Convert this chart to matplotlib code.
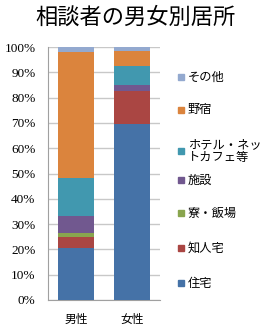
import matplotlib
matplotlib.use("Agg")
import matplotlib.pyplot as plt
from matplotlib.patches import Rectangle
import numpy as np

categories = ["男性", "女性"]
series_names = ["住宅", "知人宅", "寮・飯場", "施設", "ホテル・ネッ\nトカフェ等", "野宿", "その他"]
male = [20.4, 4.4, 1.5, 7.0, 15.1, 49.8, 1.8]
female = [69.4, 13.3, 0.0, 2.4, 7.5, 5.9, 1.5]
colors = ["#4572A7", "#AA4643", "#89A54E", "#71588F", "#4198AF", "#DB843D", "#93A9CF"]
yticks = [0, 10, 20, 30, 40, 50, 60, 70, 80, 90, 100]
ytick_labels = [f"{v}%" for v in yticks]

cjk = ["Noto Sans CJK JP", "DejaVu Sans"]

fig = plt.figure(figsize=(2.69, 3.32), dpi=100)
ax = fig.add_axes([48/269, 32/332, 112/269, 253/332])

x = np.arange(len(categories))
bottom = np.zeros(len(categories))
for i, name in enumerate(series_names):
    vals = np.array([male[i], female[i]])
    ax.bar(x, vals, bottom=bottom, width=0.63, color=colors[i], zorder=3)
    bottom += vals

ax.set_xlim(-0.5, 1.5)
ax.set_ylim(0, 100)
ax.set_yticks(yticks)
ax.set_yticklabels(ytick_labels, family="Liberation Serif", fontsize=9.5)
ax.set_xticks(x)
ax.set_xticklabels(categories, family=cjk, fontsize=8.5)
ax.yaxis.grid(True, color="#C8C8C8", linewidth=1, zorder=0)
for s in ["top", "right"]:
    ax.spines[s].set_visible(False)
ax.spines["left"].set_color("#A0A0A0")
ax.spines["bottom"].set_color("#A0A0A0")
ax.tick_params(axis="y", length=0, pad=9)
ax.tick_params(axis="x", length=0, pad=9)

fig.text(136/269, 1 - 17/332, "相談者の男女別居所", family=cjk, fontsize=16,
         ha="center", va="center")

# legend (top to bottom: reversed series order)
legend_y = [77, 110, 151, 180, 213, 248, 283]
order = list(range(len(series_names)))[::-1]
for yy, idx in zip(legend_y, order):
    fig.patches.append(Rectangle((178/269, 1 - (yy + 3)/332), 6/269, 6/332,
                                 transform=fig.transFigure, color=colors[idx]))
    fig.text(188/269, 1 - yy/332, series_names[idx], family=cjk, fontsize=8.8,
             ha="left", va="center", linespacing=1.05)

fig.savefig("out.png", dpi=100)
